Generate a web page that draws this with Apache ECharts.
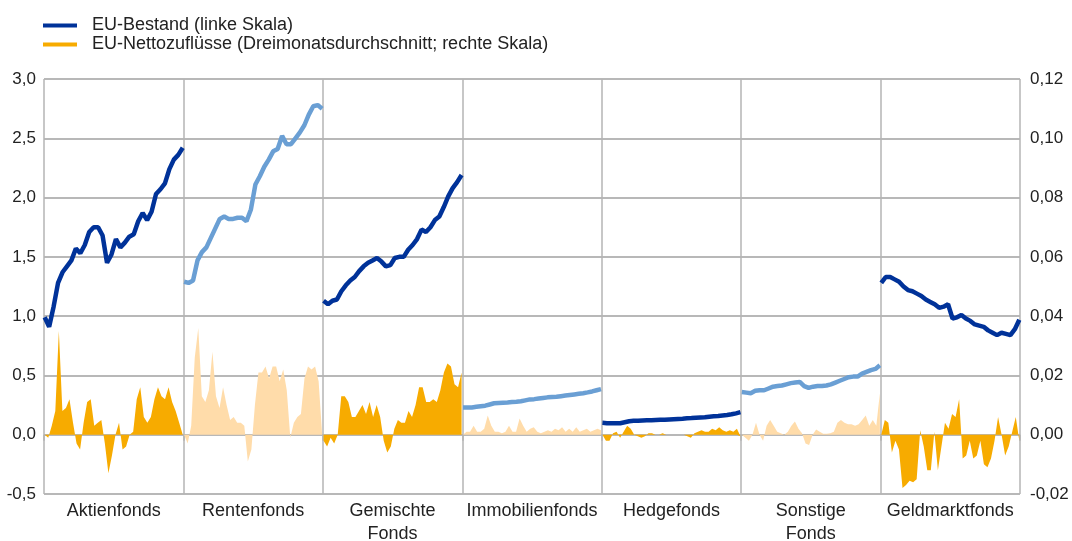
<!DOCTYPE html>
<html>
<head>
<meta charset="utf-8">
<script src="https://cdn.jsdelivr.net/npm/echarts@6/dist/echarts.min.js"></script>
<style>
  html, body { margin: 0; padding: 0; background: #fff; }
  #main { width: 1072px; height: 541px; }
</style>
</head>
<body>
<div id="main"></div>
<script>
// fund categories (one panel each)
var categories = ['Aktienfonds', 'Rentenfonds', 'Gemischte\nFonds', 'Immobilienfonds', 'Hedgefonds', 'Sonstige\nFonds', 'Geldmarktfonds'];

// EU-Bestand (left scale)
var stockAktien = [0.99, 0.91, 1.08, 1.28, 1.37, 1.42, 1.47, 1.57, 1.53, 1.60, 1.71, 1.75, 1.75, 1.68, 1.45, 1.52,
  1.65, 1.58, 1.62, 1.67, 1.69, 1.80, 1.87, 1.81, 1.88, 2.03, 2.07, 2.12, 2.24, 2.32, 2.36, 2.42];
var stockRenten = [1.29, 1.28, 1.30, 1.47, 1.54, 1.58, 1.66, 1.74, 1.82, 1.84, 1.82, 1.82, 1.83, 1.83, 1.80, 1.90,
  2.11, 2.18, 2.26, 2.32, 2.39, 2.41, 2.52, 2.45, 2.45, 2.50, 2.55, 2.61, 2.70, 2.77, 2.78, 2.75];
var stockGemischt = [1.13, 1.10, 1.13, 1.14, 1.21, 1.26, 1.30, 1.33, 1.38, 1.42, 1.45, 1.47, 1.49, 1.46, 1.42, 1.43,
  1.49, 1.50, 1.50, 1.56, 1.60, 1.65, 1.73, 1.71, 1.75, 1.81, 1.84, 1.92, 2.01, 2.08, 2.13, 2.19];
var stockImmo = [0.23, 0.23, 0.23, 0.235, 0.24, 0.245, 0.255, 0.265, 0.268, 0.27, 0.272, 0.275, 0.278, 0.282, 0.29, 0.298,
  0.30, 0.305, 0.31, 0.315, 0.318, 0.32, 0.325, 0.33, 0.335, 0.34, 0.345, 0.35, 0.357, 0.365, 0.375, 0.385];
var stockHedge = [0.10, 0.097, 0.096, 0.096, 0.097, 0.105, 0.113, 0.117, 0.118, 0.12, 0.121, 0.122, 0.124, 0.126, 0.127, 0.129,
  0.131, 0.133, 0.135, 0.138, 0.14, 0.143, 0.146, 0.148, 0.152, 0.155, 0.158, 0.162, 0.166, 0.172, 0.18, 0.19];
var stockSonstige = [0.36, 0.355, 0.35, 0.37, 0.375, 0.375, 0.39, 0.405, 0.41, 0.415, 0.425, 0.435, 0.44, 0.445, 0.41, 0.395,
  0.405, 0.41, 0.41, 0.415, 0.425, 0.44, 0.455, 0.47, 0.485, 0.49, 0.49, 0.515, 0.53, 0.545, 0.555, 0.585];
var stockGeldmarkt = [1.28, 1.33, 1.33, 1.31, 1.29, 1.25, 1.22, 1.21, 1.19, 1.17, 1.14, 1.12, 1.10, 1.07, 1.08, 1.10,
  0.98, 0.99, 1.01, 0.98, 0.96, 0.93, 0.92, 0.91, 0.88, 0.86, 0.84, 0.86, 0.85, 0.84, 0.89, 0.97];

// EU-Nettozufluesse, three-month average (right scale)
var flowAktien = [0, -0.001, 0.003, 0.008, 0.035, 0.008, 0.009, 0.012, 0.004, -0.003, -0.005, 0.004, 0.011, 0.012, 0.003, 0.004,
  0.005, -0.003, -0.013, -0.007, 0.000, 0.004, -0.005, -0.004, 0.000, 0.001, 0.012, 0.016, 0.006, 0.004, 0.006, 0.012,
  0.016, 0.013, 0.012, 0.016, 0.011, 0.008, 0.004, 0];
var flowRenten = [0, -0.003, 0.003, 0.026, 0.036, 0.013, 0.011, 0.015, 0.028, 0.013, 0.009, 0.016, 0.010, 0.005, 0.006, 0.004,
  0.004, 0.003, -0.009, -0.005, 0.010, 0.021, 0.021, 0.023, 0.019, 0.023, 0.023, 0.018, 0.022, 0.015, -0.001, 0.004,
  0.006, 0.007, 0.019, 0.023, 0.022, 0.023, 0.018, 0];
var flowGemischt = [-0.002, -0.004, -0.001, -0.003, 0.0, 0.013, 0.013, 0.011, 0.006, 0.006, 0.008, 0.010, 0.007, 0.011, 0.006, 0.010,
  0.006, -0.002, -0.006, -0.004, 0.002, 0.005, 0.004, 0.004, 0.008, 0.006, 0.010, 0.016, 0.016, 0.011, 0.011, 0.012,
  0.011, 0.015, 0.021, 0.024, 0.023, 0.017, 0.016, 0.021];
var flowImmo = [0.0, 0.001, 0.001, 0.003, 0.001, 0.001, 0.002, 0.0065, 0.003, 0.001, 0.001, 0.0005, 0.001, 0.003, 0.001, 0.001,
  0.0055, 0.003, 0.001, 0.002, 0.0025, 0.001, 0.0005, 0.001, 0.0015, 0.001, 0.002, 0.0015, 0.0025, 0.001, 0.002, 0.001,
  0.0025, 0.001, 0.0015, 0.002, 0.001, 0.0015, 0.002, 0.0015];
var flowHedge = [0, -0.002, -0.002, 0.0005, 0.001, -0.001, 0.001, 0.003, 0.002, 0.0, -0.0005, -0.001, -0.0005, 0.0005, 0.0005, 0.0,
  0.0, 0.0005, 0.0, 0.0, 0.0, 0.0, 0.0, 0.0, -0.0005, -0.001, 0.0005, 0.001, 0.0015, 0.001, 0.001, 0.002,
  0.0015, 0.0025, 0.0015, 0.001, 0.0015, 0.001, 0.002, -0.0005];
var flowSonstige = [0.0, -0.001, -0.002, 0.0, 0.004, 0.0, -0.002, 0.003, 0.005, 0.003, 0.001, 0.0005, 0.0, 0.001, 0.003, 0.0045,
  0.002, 0.0005, -0.003, -0.0035, 0.0, 0.0018, 0.001, 0.0003, 0.0003, 0.0005, 0.001, 0.004, 0.005, 0.004, 0.0035, 0.0035,
  0.003, 0.0035, 0.005, 0.0065, 0.003, 0.005, 0.003, 0.014];
var flowGeldmarkt = [0.0, 0.005, 0.004, -0.006, -0.002, -0.005, -0.018, -0.017, -0.0155, -0.016, -0.015, 0.0015, -0.004, -0.012, -0.012, 0.001,
  -0.012, -0.004, 0.004, 0.002, 0.007, 0.006, 0.012, -0.008, -0.007, -0.002, -0.008, -0.007, -0.002, -0.010, -0.011, -0.008,
  -0.002, 0.006, 0.0, -0.007, -0.004, 0.001, 0.006, -0.002];

var stocks = [stockAktien, stockRenten, stockGemischt, stockImmo, stockHedge, stockSonstige, stockGeldmarkt];
var flows = [flowAktien, flowRenten, flowGemischt, flowImmo, flowHedge, flowSonstige, flowGeldmarkt];

var legendStock = 'EU-Bestand (linke Skala)';
var legendFlow = 'EU-Nettozuflüsse (Dreimonatsdurchschnitt; rechte Skala)';

var darkBlue = '#003299', lightBlue = '#6a9fd4';
var darkOrange = '#f7ab00', lightOrange = '#ffdcaa';

// spread each panel's points over its slot on the x axis
function toPanel(arr, p) {
  var n = arr.length;
  return arr.map(function (v, i) {
    return [p + 0.005 + i * 0.99 / (n - 1), v];
  });
}

var series = [];
for (var p = 0; p < categories.length; p++) {
  var odd = p % 2 == 1;
  series.push({
    name: p == 0 ? legendFlow : 'flow' + p,
    type: 'line',
    xAxisIndex: 0,
    yAxisIndex: 1,
    symbol: 'none',
    color: odd ? lightOrange : darkOrange,
    lineStyle: { width: 0 },
    areaStyle: { color: odd ? lightOrange : darkOrange, opacity: 1 },
    data: toPanel(flows[p], p),
    z: 2
  });
  series.push({
    name: p == 0 ? legendStock : 'stock' + p,
    type: 'line',
    xAxisIndex: 0,
    yAxisIndex: 0,
    symbol: 'none',
    color: odd ? lightBlue : darkBlue,
    lineStyle: { width: 4.5, color: odd ? lightBlue : darkBlue },
    data: toPanel(stocks[p], p),
    z: 3
  });
}

var chart = echarts.init(document.getElementById('main'));
chart.setOption({
  animation: false,
  backgroundColor: '#ffffff',
  textStyle: { fontFamily: 'Liberation Sans, Arial, sans-serif' },
  legend: {
    orient: 'vertical',
    left: 38,
    top: 11,
    itemWidth: 34,
    itemHeight: 4,
    itemGap: 0,
    icon: 'rect',
    data: [legendStock, legendFlow],
    textStyle: { fontSize: 18, lineHeight: 19, color: '#222', padding: [0, 0, 0, 10] }
  },
  grid: { left: 44, right: 52, top: 79, bottom: 47, containLabel: false, outerBoundsMode: 'none' },
  xAxis: [{
    type: 'value',
    min: 0,
    max: 7,
    interval: 1,
    axisLabel: { show: false },
    axisTick: { show: false },
    axisLine: { show: false },
    splitLine: { show: true, lineStyle: { color: '#b4b4b4', width: 1.5 } }
  }, {
    type: 'category',
    position: 'bottom',
    data: categories,
    boundaryGap: true,
    axisLine: { show: false },
    axisTick: { show: true, length: 6, lineStyle: { color: '#b4b4b4', width: 1.5 } },
    axisLabel: { interval: 0, fontSize: 18, color: '#222', margin: 6, lineHeight: 23 },
    splitLine: { show: false }
  }],
  yAxis: [{
    type: 'value',
    min: -0.5,
    max: 3,
    interval: 0.5,
    axisLine: { show: false },
    axisTick: { show: false },
    axisLabel: {
      fontSize: 17, color: '#222', margin: 8,
      formatter: function (v) { return v.toFixed(1).replace('.', ','); }
    },
    splitLine: { lineStyle: { color: '#a0a0a0', width: 1.5 } }
  }, {
    type: 'value',
    min: -0.02,
    max: 0.12,
    interval: 0.02,
    axisLine: { show: false },
    axisTick: { show: false },
    axisLabel: {
      fontSize: 17, color: '#222', margin: 10,
      formatter: function (v) { return (Math.round(v * 100) / 100).toFixed(2).replace('.', ','); }
    },
    splitLine: { show: false }
  }],
  series: series
});
</script>
</body>
</html>
